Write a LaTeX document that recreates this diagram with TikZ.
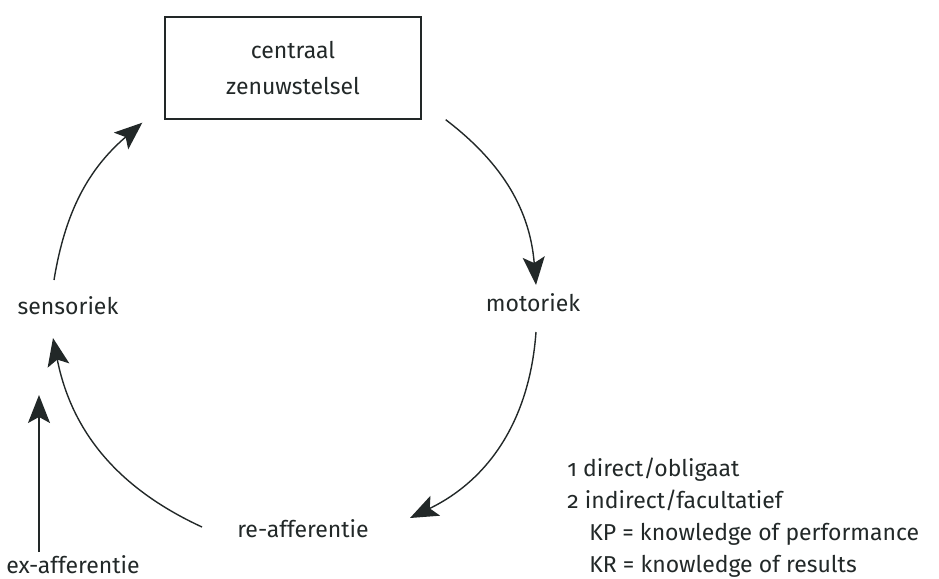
\documentclass[tikz,border=0pt]{standalone}
\usepackage{fontspec}
\setmainfont[Numbers=OldStyle]{Fira Sans}
\usetikzlibrary{arrows.meta,calc}

\definecolor{ink}{HTML}{222828}

\tikzset{
  lbl/.style={font=\fontsize{11.5}{16}\selectfont, text=ink, inner sep=0pt},
  loop/.style={ink, line width=0.7pt, -{Stealth[length=14pt,width=11pt,inset=3pt]}},
}

\begin{document}
\begin{tikzpicture}[x=0.5pt,y=-0.5pt]
\useasboundingbox (0,0) rectangle (939,579);

\node[lbl, draw=ink, line width=0.7pt, minimum width=128pt, minimum height=51pt, align=center] (czs) at (293,68) {centraal\\[2pt]zenuwstelsel};
\node[lbl] (mot) at (533,303) {motoriek};
\node[lbl] (sen) at (68,306) {sensoriek};
\node[lbl] (reaf) at (303,529) {re-afferentie};
\node[lbl] (exaf) at (73,565) {ex-afferentie};

\node[lbl, anchor=base west, align=left] (leg) at (567,572)
  {1 direct/obligaat\\2 indirect/facultatief\\
   \hspace*{11pt}KP = knowledge of performance\\
   \hspace*{11pt}KR = knowledge of results};

% de kringloop
\draw[loop] ($(czs.south east)+(24,0)$) to[bend left=24] ($(mot)+(3,-18)$);
\draw[loop] ($(mot)+(3,29)$) to[bend left=30] ($(reaf)+(107,-11)$);
\draw[loop] ($(reaf)+(-101,-2)$) to[bend left=27] ($(sen)+(-15,32)$);
\draw[loop] ($(sen)+(-14,-26)$) to[bend left=20] ($(czs.south west)+(-22,3)$);

\draw[loop] ($(exaf)+(-34,-13)$) -- ($(exaf)+(-34,-170)$);
\end{tikzpicture}
\end{document}
